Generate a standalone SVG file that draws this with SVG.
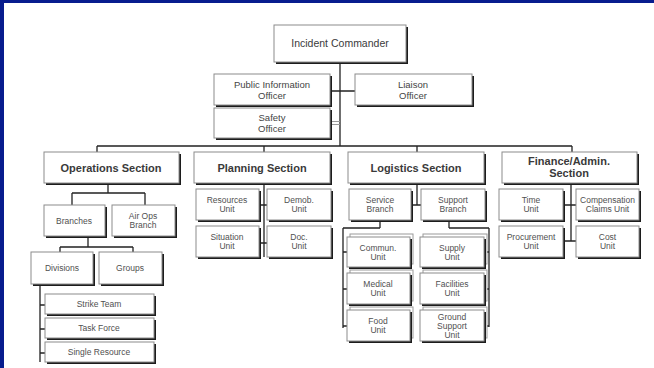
<svg xmlns="http://www.w3.org/2000/svg" width="654" height="368" viewBox="0 0 654 368">
<style>
.sh{fill:#1c1c1c}
.bx{fill:#fff;stroke:#8c8c8c;stroke-width:1}
.bk{fill:#fff;stroke:#9a9a9a;stroke-width:1}
.ln{stroke:#222;stroke-width:1.3;fill:none}
.lg{stroke:#9a9a9a;stroke-width:1;fill:none}
text{font-family:"Liberation Sans",Arial,sans-serif;text-anchor:middle;fill:#4a4a4a}
.t1{font-size:10.5px;fill:#3a3a3a}
.t2{font-size:9.5px;fill:#444}
.ts{font-size:11px;font-weight:bold;fill:#3a3a3a}
.t3{font-size:8.5px;fill:#505050}
</style>
<rect x="0" y="0" width="654" height="368" fill="#071c8e"/>
<rect x="4" y="3" width="650" height="365" fill="#fff"/>
<g id="connectors">
<path class="ln" d="M340 64V146M332 91H355M97 146H572M97 146V152M264 146V152M417 146V152M572 146V152"/>
<path class="lg" d="M332 121.5H340M332 124.5H340"/>
<path class="ln" d="M108 185V193M72 193H145M72 193V205M145 193V205"/>
<path class="ln" d="M88 238V247M60 247H133M60 247V252M133 247V252"/>
<path class="ln" d="M40 286V362M40 305H45M40 329H45M40 353H45"/>
<path class="ln" d="M264 185V257M261 205H267M261 243H267"/>
<path class="ln" d="M417 185V205M412 205H421"/>
<path class="ln" d="M380 222V228M343 228H380M343 228V328M343 252H347M343 289H347M343 326H347"/>
<path class="ln" d="M449 222V228M449 228H489M489 228V327M485 252H489M485 289H489M485 326H489"/>
<path class="ln" d="M571 185V241M564 205H576M564 241H576"/>
</g>
<g id="ic"><rect class="sh" x="276" y="27" width="132" height="37"/><rect class="bx" x="274" y="25" width="132" height="37"/><text class="t1" x="340" y="47">Incident Commander</text></g>
<g id="pio"><rect class="sh" x="216" y="76" width="116" height="31"/><rect class="bx" x="214" y="74" width="116" height="31"/><text class="t2" x="272" y="88">Public Information</text><text class="t2" x="272" y="99">Officer</text></g>
<g id="liaison"><rect class="sh" x="357" y="76" width="117" height="31"/><rect class="bx" x="355" y="74" width="117" height="31"/><text class="t2" x="413" y="88">Liaison</text><text class="t2" x="413" y="99">Officer</text></g>
<g id="safety"><rect class="sh" x="216" y="110" width="116" height="30"/><rect class="bx" x="214" y="108" width="116" height="30"/><text class="t2" x="272" y="121">Safety</text><text class="t2" x="272" y="132">Officer</text></g>
<g id="ops"><rect class="sh" x="46" y="154" width="135" height="31"/><rect class="bx" x="44" y="152" width="135" height="31"/><text class="ts" x="111" y="171.5">Operations Section</text></g>
<g id="planning"><rect class="sh" x="196" y="154" width="136" height="31"/><rect class="bx" x="194" y="152" width="136" height="31"/><text class="ts" x="262" y="171.5">Planning Section</text></g>
<g id="logistics"><rect class="sh" x="350" y="154" width="136" height="31"/><rect class="bx" x="348" y="152" width="136" height="31"/><text class="ts" x="416" y="171.5">Logistics Section</text></g>
<g id="finance"><rect class="sh" x="504" y="154" width="135" height="31"/><rect class="bx" x="502" y="152" width="135" height="31"/><text class="ts" x="569" y="165">Finance/Admin.</text><text class="ts" x="569" y="177">Section</text></g>
<g id="branches"><rect class="sh" x="46" y="207" width="61" height="31"/><rect class="bx" x="44" y="205" width="61" height="31"/><text class="t3" x="74" y="224">Branches</text></g>
<g id="airops"><rect class="sh" x="114" y="207" width="63" height="31"/><rect class="bx" x="112" y="205" width="63" height="31"/><text class="t3" x="143" y="219">Air Ops</text><text class="t3" x="143" y="228">Branch</text></g>
<g id="divisions"><rect class="sh" x="33" y="254" width="62" height="32"/><rect class="bx" x="31" y="252" width="62" height="32"/><text class="t3" x="62" y="271">Divisions</text></g>
<g id="groups"><rect class="sh" x="101" y="254" width="63" height="32"/><rect class="bx" x="99" y="252" width="63" height="32"/><text class="t3" x="130" y="271">Groups</text></g>
<g id="strike"><rect class="sh" x="47" y="296" width="109" height="20"/><rect class="bx" x="45" y="294" width="109" height="20"/><text class="t3" x="99" y="307">Strike Team</text></g>
<g id="task"><rect class="sh" x="47" y="320" width="109" height="20"/><rect class="bx" x="45" y="318" width="109" height="20"/><text class="t3" x="99" y="331">Task Force</text></g>
<g id="single"><rect class="sh" x="47" y="344" width="109" height="20"/><rect class="bx" x="45" y="342" width="109" height="20"/><text class="t3" x="99" y="355">Single Resource</text></g>
<g id="resources"><rect class="sh" x="198" y="191" width="63" height="31"/><rect class="bx" x="196" y="189" width="63" height="31"/><text class="t3" x="227" y="203">Resources</text><text class="t3" x="227" y="212">Unit</text></g>
<g id="demob"><rect class="sh" x="269" y="191" width="64" height="31"/><rect class="bx" x="267" y="189" width="64" height="31"/><text class="t3" x="299" y="203">Demob.</text><text class="t3" x="299" y="212">Unit</text></g>
<g id="situation"><rect class="sh" x="198" y="228" width="63" height="31"/><rect class="bx" x="196" y="226" width="63" height="31"/><text class="t3" x="227" y="240">Situation</text><text class="t3" x="227" y="249">Unit</text></g>
<g id="doc"><rect class="sh" x="269" y="228" width="64" height="31"/><rect class="bx" x="267" y="226" width="64" height="31"/><text class="t3" x="299" y="240">Doc.</text><text class="t3" x="299" y="249">Unit</text></g>
<g id="service"><rect class="sh" x="351" y="191" width="62" height="31"/><rect class="bx" x="349" y="189" width="62" height="31"/><text class="t3" x="380" y="203">Service</text><text class="t3" x="380" y="212">Branch</text></g>
<g id="support"><rect class="sh" x="423" y="191" width="64" height="31"/><rect class="bx" x="421" y="189" width="64" height="31"/><text class="t3" x="453" y="203">Support</text><text class="t3" x="453" y="212">Branch</text></g>
<g id="commun"><rect class="bk" x="350" y="234" width="63" height="30"/><rect class="sh" x="349" y="239" width="63" height="30"/><rect class="bx" x="347" y="237" width="63" height="30"/><text class="t3" x="378" y="251">Commun.</text><text class="t3" x="378" y="260">Unit</text></g>
<g id="medical"><rect class="bk" x="350" y="270" width="63" height="31"/><rect class="sh" x="349" y="275" width="63" height="31"/><rect class="bx" x="347" y="273" width="63" height="31"/><text class="t3" x="378" y="287">Medical</text><text class="t3" x="378" y="296">Unit</text></g>
<g id="food"><rect class="bk" x="350" y="307" width="63" height="31"/><rect class="sh" x="349" y="312" width="63" height="31"/><rect class="bx" x="347" y="310" width="63" height="31"/><text class="t3" x="378" y="324">Food</text><text class="t3" x="378" y="333">Unit</text></g>
<g id="supply"><rect class="bk" x="423" y="234" width="64" height="30"/><rect class="sh" x="422" y="239" width="64" height="30"/><rect class="bx" x="420" y="237" width="64" height="30"/><text class="t3" x="452" y="251">Supply</text><text class="t3" x="452" y="260">Unit</text></g>
<g id="facilities"><rect class="bk" x="423" y="270" width="64" height="31"/><rect class="sh" x="422" y="275" width="64" height="31"/><rect class="bx" x="420" y="273" width="64" height="31"/><text class="t3" x="452" y="287">Facilities</text><text class="t3" x="452" y="296">Unit</text></g>
<g id="ground"><rect class="bk" x="423" y="307" width="64" height="31"/><rect class="sh" x="422" y="312" width="64" height="31"/><rect class="bx" x="420" y="310" width="64" height="31"/><text class="t3" x="452" y="320">Ground</text><text class="t3" x="452" y="329">Support</text><text class="t3" x="452" y="338">Unit</text></g>
<g id="time"><rect class="sh" x="501" y="191" width="64" height="31"/><rect class="bx" x="499" y="189" width="64" height="31"/><text class="t3" x="531" y="203">Time</text><text class="t3" x="531" y="212">Unit</text></g>
<g id="comp"><rect class="sh" x="578" y="191" width="63" height="31"/><rect class="bx" x="576" y="189" width="63" height="31"/><text class="t3" x="607.5" y="203">Compensation</text><text class="t3" x="607.5" y="212">Claims Unit</text></g>
<g id="procurement"><rect class="sh" x="501" y="228" width="64" height="31"/><rect class="bx" x="499" y="226" width="64" height="31"/><text class="t3" x="531" y="240">Procurement</text><text class="t3" x="531" y="249">Unit</text></g>
<g id="cost"><rect class="sh" x="578" y="228" width="63" height="31"/><rect class="bx" x="576" y="226" width="63" height="31"/><text class="t3" x="607.5" y="240">Cost</text><text class="t3" x="607.5" y="249">Unit</text></g>
</svg>
